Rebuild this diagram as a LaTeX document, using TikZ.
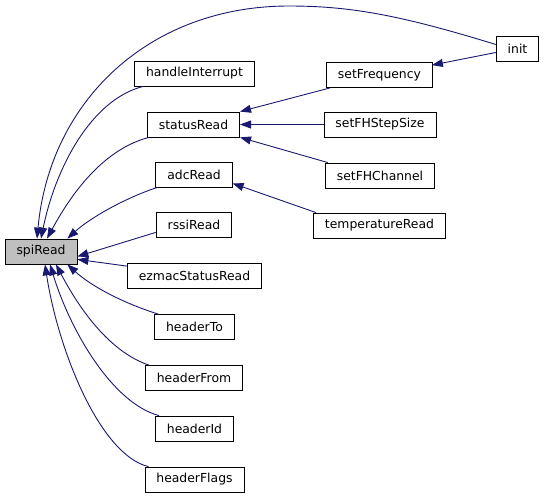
\documentclass[tikz,border=0pt]{standalone}
\usepackage{fontspec}
\setmainfont{DejaVu Sans}
\usetikzlibrary{arrows.meta}
\definecolor{edgeblue}{HTML}{191970}
\definecolor{boxgray}{HTML}{BFBFBF}
\begin{document}
\begin{tikzpicture}[x=1pt, y=-1pt,
    fn/.style={draw=black, fill=white, line width=0.8pt, minimum height=25pt, inner xsep=11.5pt, font=\fontsize{12.4}{14}\selectfont},
    call/.style={draw=edgeblue, line width=0.9pt, -{Triangle[length=11pt, width=8pt]}}]
    \useasboundingbox (0,0) rectangle (544,498);

    \node[fn, fill=boxgray] (spi) at (41,251.5) {spiRead};

    \node[fn] (hint) at (194.5,73.5) {handleInterrupt};
    \node[fn] (stat) at (193.5,124.5) {statusRead};
    \node[fn] (adc) at (194,174.5) {adcRead};
    \node[fn] (rssi) at (194,224.5) {rssiRead};
    \node[fn] (ezmac) at (194.5,276) {ezmacStatusRead};
    \node[fn] (hto) at (194.5,327) {headerTo};
    \node[fn] (hfrom) at (194,378) {headerFrom};
    \node[fn] (hid) at (194.5,428.5) {headerId};
    \node[fn] (hflags) at (194.5,479.5) {headerFlags};

    \node[fn] (init) at (517.5,48.5) {init};
    \node[fn] (setfreq) at (379.5,75) {setFrequency};
    \node[fn] (setstep) at (380,124.5) {setFHStepSize};
    \node[fn] (setchan) at (380,175.5) {setFHChannel};
    \node[fn] (temp) at (379.5,225.5) {temperatureRead};

    % callers of spiRead
    \draw[call] ([yshift=4pt]init.west) .. controls (400,15) and (350,6) .. (289,6)
        .. controls (150,6) and (50,100) .. ([xshift=-4pt]spi.north);
    \draw[call] ([xshift=9pt]hint.south west) .. controls (90,100) and (55,170) .. ([xshift=0pt]spi.north);
    \draw[call] ([xshift=2pt]stat.south west) .. controls (100,150) and (68,200) .. ([xshift=6pt]spi.north);
    \draw[call] ([xshift=2pt]adc.south west) .. controls (125,198) and (90,218) .. ([xshift=-10pt]spi.north east);
    \draw[call] ([yshift=5pt]rssi.south west) -- ([yshift=-5pt]spi.east);
    \draw[call] ([yshift=-3pt]ezmac.north west) -- ([yshift=5pt]spi.south east);
    \draw[call] ([xshift=4pt]hto.north west) .. controls (120,302) and (90,285) .. ([xshift=-10pt]spi.south east);
    \draw[call] ([xshift=4pt]hfrom.north west) .. controls (110,352) and (80,310) .. ([xshift=15pt]spi.south);
    \draw[call] ([xshift=4pt]hid.north west) .. controls (112,403) and (70,330) .. ([xshift=9pt]spi.south);
    \draw[call] ([xshift=4pt]hflags.north west) .. controls (100,455) and (58,350) .. ([xshift=4pt]spi.south);

    % callers of statusRead and adcRead
    \draw[call] ([xshift=4pt]setfreq.south west) -- (stat.north east);
    \draw[call] (setstep.west) -- (stat.east);
    \draw[call] ([xshift=3pt]setchan.north west) -- (stat.south east);
    \draw[call] ([xshift=3pt]temp.north west) -- ([yshift=4pt]adc.south east);

    \draw[call] ([yshift=-4pt]init.west) -- ([xshift=-1pt,yshift=-3pt]setfreq.north east);
\end{tikzpicture}
\end{document}
